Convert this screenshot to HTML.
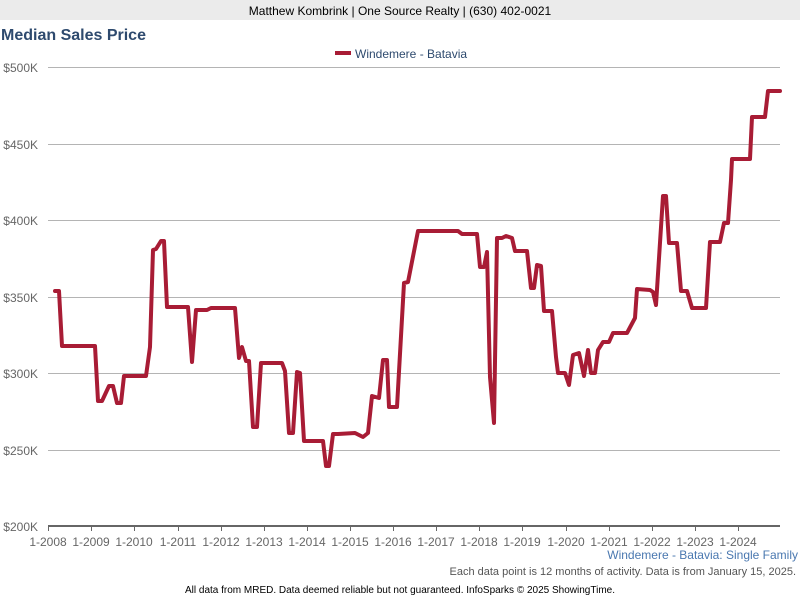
<!DOCTYPE html>
<html><head><style>
body{margin:0;background:#fff;font-family:"Liberation Sans",Arial,sans-serif;}
</style></head><body>
<svg width="800" height="600" xmlns="http://www.w3.org/2000/svg" font-family="Liberation Sans, Arial, sans-serif">
<rect x="0" y="0" width="800" height="20" fill="#ebebeb"/>
<text x="400" y="15" font-size="12" text-anchor="middle" fill="#000">Matthew Kombrink | One Source Realty | (630) 402-0021</text>
<text x="1" y="40" font-size="16" font-weight="bold" fill="#2e4a6e">Median Sales Price</text>
<rect x="335" y="51" width="16" height="4" fill="#a81c35"/>
<text x="355" y="58" font-size="12" fill="#2e4a6e">Windemere - Batavia</text>
<g stroke="#b4b4b4" stroke-width="1">
<line x1="48" y1="67.5" x2="780" y2="67.5"/>
<line x1="48" y1="144.5" x2="780" y2="144.5"/>
<line x1="48" y1="220.5" x2="780" y2="220.5"/>
<line x1="48" y1="297.5" x2="780" y2="297.5"/>
<line x1="48" y1="373.5" x2="780" y2="373.5"/>
<line x1="48" y1="450.5" x2="780" y2="450.5"/>
</g>
<line x1="48" y1="526" x2="780" y2="526" stroke="#666" stroke-width="2"/>
<g stroke="#666" stroke-width="1">
<line x1="48.5" y1="526" x2="48.5" y2="531"/><line x1="91.5" y1="526" x2="91.5" y2="531"/><line x1="134.5" y1="526" x2="134.5" y2="531"/><line x1="178.5" y1="526" x2="178.5" y2="531"/><line x1="221.5" y1="526" x2="221.5" y2="531"/><line x1="264.5" y1="526" x2="264.5" y2="531"/><line x1="307.5" y1="526" x2="307.5" y2="531"/><line x1="350.5" y1="526" x2="350.5" y2="531"/><line x1="393.5" y1="526" x2="393.5" y2="531"/><line x1="436.5" y1="526" x2="436.5" y2="531"/><line x1="479.5" y1="526" x2="479.5" y2="531"/><line x1="522.5" y1="526" x2="522.5" y2="531"/><line x1="566.5" y1="526" x2="566.5" y2="531"/><line x1="609.5" y1="526" x2="609.5" y2="531"/><line x1="652.5" y1="526" x2="652.5" y2="531"/><line x1="695.5" y1="526" x2="695.5" y2="531"/><line x1="738.5" y1="526" x2="738.5" y2="531"/>
</g>
<g font-size="12" fill="#666" text-anchor="end">
<text x="38" y="72">$500K</text><text x="38" y="149">$450K</text><text x="38" y="225">$400K</text><text x="38" y="302">$350K</text><text x="38" y="378">$300K</text><text x="38" y="455">$250K</text><text x="38" y="531">$200K</text>
</g>
<g font-size="12" fill="#666" text-anchor="middle">
<text x="48" y="546">1-2008</text><text x="91" y="546">1-2009</text><text x="134" y="546">1-2010</text><text x="178" y="546">1-2011</text><text x="221" y="546">1-2012</text><text x="264" y="546">1-2013</text><text x="307" y="546">1-2014</text><text x="350" y="546">1-2015</text><text x="393" y="546">1-2016</text><text x="436" y="546">1-2017</text><text x="479" y="546">1-2018</text><text x="522" y="546">1-2019</text><text x="566" y="546">1-2020</text><text x="609" y="546">1-2021</text><text x="652" y="546">1-2022</text><text x="695" y="546">1-2023</text><text x="738" y="546">1-2024</text>
</g>
<text x="798" y="559" font-size="12" fill="#4a78b0" text-anchor="end">Windemere - Batavia: Single Family</text>
<text x="796" y="575" font-size="11" fill="#555" text-anchor="end">Each data point is 12 months of activity. Data is from January 15, 2025.</text>
<text x="400" y="593" font-size="10" fill="#000" text-anchor="middle">All data from MRED. Data deemed reliable but not guaranteed. InfoSparks © 2025 ShowingTime.</text>
<polyline fill="none" stroke="#a81c35" stroke-width="4" stroke-linejoin="round" stroke-linecap="round" points="55,291 59,291 62,346 95,346 98,401 102,401 109,386 113,386 117,403 121,403 124,376 146,376 150,347 153,250 156,249 161,241 164,241 167,307 188,307 192,362 196,310 207,310 211,308 235,308 239,358 242,347 246,361 249,361 253,427 257,427 261,363 282,363 285,371 289,433 293,433 297,372 300,373 304,441 323,441 326,466 329,466 333,434 338,434 355,433 363,437 368,433 372,396 379,398 383,360 387,360 389,407 397,407 404,283 408,282 418,231 458,231 462,234 477,234 480,267 484,267 487,252 490,377 494,423 497,238 502,238 506,236 512,238 515,251 527,251 531,288 534,288 537,265 541,266 544,311 552,311 556,357 558,373 565,373 569,385 573,355 579,353 584,376 588,350 591,373 595,373 598,350 603,342 609,342 613,333 627,333 635,318 637,289 650,290 653,292 656,305 663,196 666,196 669,243 677,243 681,291 687,291 692,308 706,308 710,242 720,242 724,223 728,223 731,180 732,159 750,159 752,117 765,117 768,91 780,91"/>
</svg>
</body></html>
